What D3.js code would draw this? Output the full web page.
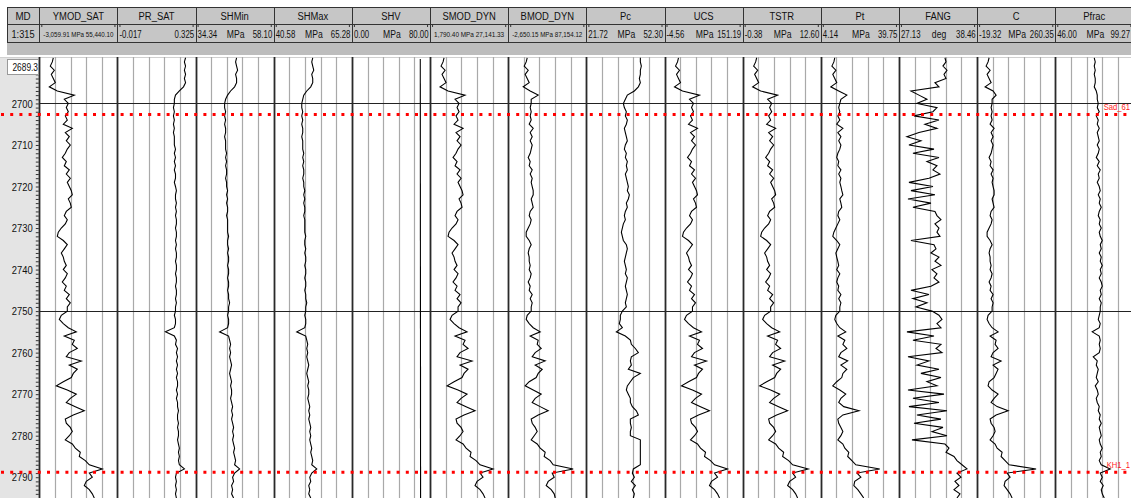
<!DOCTYPE html>
<html>
<head>
<meta charset="utf-8">
<script src="https://cdn.jsdelivr.net/npm/d3@7"></script>
<style>
  body { margin: 0; background: #fff; }
  text { font-family: 'Liberation Sans', Arial, sans-serif; fill: #111; }
</style>
</head>
<body>
<div id="container"></div>
<script>
// depth samples, 1 m
const depths = d3.range(2689, 2796);

const ymodSat = [7420,6670,5170,8170,5920,7420,8920,4430,10410,23140,15660,
  18650,17150,18650,16400,17900,14910,21640,16400,19400,17150,
  20150,17900,16400,14160,17150,15660,19400,17150,20150,17900,
  19400,20900,21640,18650,20150,20900,17150,15660,17900,16400,
  13410,11160,10410,14910,17900,15660,13410,14910,15660,17150,
  14910,17900,16400,14160,17150,15660,19400,17150,20150,17900,
  17900,13410,11910,14910,18650,24640,15660,23140,21640,25390,
  19400,17150,28380,19400,25390,22390,20900,14910,9670,17900,
  24640,20150,17150,23890,30630,22390,16400,17150,20150,21640,
  19400,16400,21640,23890,27630,26880,31380,34370,44100,34370,
  36620,32120,30630,34370,36620,38110];

const prSat = [0.281,0.276,0.281,0.276,0.281,0.276,0.281,0.272,0.254,0.237,0.232,
  0.232,0.228,0.232,0.228,0.232,0.228,0.232,0.228,0.232,0.232,
  0.232,0.237,0.232,0.237,0.232,0.237,0.232,0.237,0.237,0.232,
  0.237,0.241,0.237,0.237,0.241,0.237,0.241,0.237,0.241,0.241,
  0.237,0.241,0.241,0.237,0.241,0.237,0.241,0.241,0.237,0.241,
  0.241,0.237,0.241,0.241,0.237,0.241,0.241,0.237,0.241,0.237,
  0.237,0.232,0.237,0.237,0.232,0.193,0.232,0.241,0.237,0.246,
  0.241,0.246,0.241,0.246,0.241,0.246,0.241,0.246,0.246,0.241,
  0.246,0.241,0.246,0.246,0.250,0.246,0.246,0.250,0.246,0.250,
  0.250,0.246,0.250,0.254,0.250,0.254,0.250,0.254,0.276,0.241,
  0.237,0.241,0.237,0.241,0.237,0.241];

const shMin = [46.80,46.50,46.80,47.11,46.50,46.80,46.80,46.20,44.98,44.07,43.46,
  43.16,43.16,43.46,43.16,43.46,43.16,43.46,43.46,43.16,43.46,
  43.46,43.46,43.76,43.46,43.76,43.46,43.76,43.76,43.46,43.76,
  43.76,44.07,43.76,44.07,43.76,44.07,44.07,43.76,44.07,44.07,
  44.07,44.07,44.37,44.07,44.07,44.37,44.07,44.37,44.37,44.07,
  44.37,44.37,44.07,44.37,44.37,44.07,44.37,44.37,44.68,44.37,
  44.37,44.07,44.37,44.37,44.07,41.64,44.37,44.68,44.98,44.68,
  44.98,44.68,44.98,45.28,44.98,44.68,44.98,45.28,44.98,45.28,
  45.28,44.98,45.28,45.59,45.28,45.59,45.28,45.59,45.89,45.59,
  45.89,45.59,45.89,46.20,45.89,46.20,46.50,46.20,47.72,46.20,
  45.59,45.89,45.28,45.59,45.28,45.89];

const shMax = [52.90,52.59,52.90,53.22,52.59,52.90,52.90,52.27,51.01,50.06,49.74,
  49.43,49.43,49.74,49.43,49.74,49.43,49.74,49.74,49.43,49.74,
  49.74,49.74,50.06,49.74,50.06,49.74,50.06,50.06,49.74,50.06,
  50.06,50.38,50.06,50.38,50.06,50.38,50.38,50.06,50.38,50.38,
  50.38,50.38,50.69,50.38,50.38,50.69,50.38,50.69,50.69,50.38,
  50.69,50.69,50.38,50.69,50.69,50.38,50.69,50.69,51.01,50.69,
  50.69,50.38,50.69,50.69,50.38,47.85,50.69,51.01,51.32,51.01,
  51.32,51.01,51.32,51.64,51.32,51.01,51.32,51.64,51.32,51.64,
  51.64,51.32,51.64,51.96,51.64,51.96,51.64,51.96,52.27,51.96,
  52.27,51.96,52.27,52.59,52.27,52.59,52.90,52.59,54.17,52.59,
  51.96,52.27,51.64,51.96,51.64,52.27];

// SHV is almost flat, only two samples
const shvDepths = [2689.3, 2795];
const shv = [70.0, 70.3];

const smodDyn = [6330,6010,5360,6660,5680,6330,6980,5030,7630,13140,9900,
  11200,10550,11200,10220,10870,9580,12500,10220,11520,10550,
  11850,10870,10220,9250,10550,9900,11520,10550,11850,10870,
  11520,12170,12500,11200,11850,12170,10550,9900,10870,10220,
  8930,7950,7630,9580,10870,9900,8930,9580,9900,10550,
  9580,10870,10220,9250,10550,9900,11520,10550,11850,10870,
  10870,8930,8280,9580,11200,13790,9900,13140,12500,14120,
  11520,10550,15420,11520,14120,12820,12170,9580,7310,10870,
  13790,11850,10550,13470,16390,12820,10220,10550,11850,12500,
  11520,10220,12500,13470,15090,14770,16710,18010,22230,18010,
  18980,17040,16390,18010,18980,19630];

const bmodDyn = [19180,18030,15730,20330,16880,19180,21480,14590,22630,31820,23780,
  23780,22630,23780,22630,23780,21480,26080,22630,24930,22630,
  24930,23780,22630,20330,22630,21480,24930,22630,24930,23780,
  24930,26080,26080,23780,24930,26080,22630,21480,23780,22630,
  20330,18030,18030,21480,23780,21480,20330,21480,21480,22630,
  21480,23780,22630,20330,22630,21480,24930,22630,24930,23780,
  23780,19180,18030,21480,26080,34120,22630,31820,30670,35270,
  28370,24930,39860,28370,36420,31820,29520,21480,16880,26080,
  35270,28370,24930,34120,43310,31820,23780,24930,28370,30670,
  27220,23780,30670,34120,39860,38710,45610,49060,72040,47910,
  50200,43310,41010,46760,50200,51350];

const pc = [42.85,42.85,43.24,42.85,42.85,42.46,42.85,42.07,40.50,37.76,36.98,
  36.20,36.59,37.37,36.98,37.76,37.37,36.59,36.98,37.37,37.76,
  36.98,36.59,37.37,36.98,37.76,37.37,37.76,36.98,37.37,37.76,
  38.15,37.76,38.55,38.15,37.37,37.76,36.98,36.59,36.98,36.20,
  35.81,35.42,35.81,36.20,37.37,37.76,37.37,36.98,36.59,36.98,
  37.37,36.98,37.76,37.37,36.98,37.37,37.76,37.37,36.98,37.37,
  35.81,35.02,35.02,34.63,35.81,33.46,36.98,38.94,39.33,40.89,
  42.07,39.33,38.94,39.33,38.15,42.85,40.11,38.94,37.76,37.37,
  38.15,38.94,38.94,39.72,41.29,42.07,38.94,38.94,39.33,38.94,
  38.94,42.85,42.85,42.85,42.85,42.85,42.85,42.85,40.11,39.72,
  40.50,39.33,40.89,39.72,40.50,40.11];

const ucs = [23.3,21.4,17.4,25.3,19.4,23.3,27.3,15.4,31.3,65.2,45.3,
  53.2,49.3,53.2,47.3,51.2,43.3,61.2,47.3,55.2,49.3,
  57.2,51.2,47.3,41.3,49.3,45.3,55.2,49.3,57.2,51.2,
  55.2,59.2,61.2,53.2,57.2,59.2,49.3,45.3,51.2,47.3,
  39.3,33.3,31.3,43.3,51.2,45.3,39.3,43.3,45.3,49.3,
  43.3,51.2,47.3,41.3,49.3,45.3,55.2,49.3,57.2,51.2,
  51.2,39.3,35.3,43.3,53.2,69.2,45.3,65.2,61.2,71.2,
  55.2,49.3,79.1,55.2,71.2,63.2,59.2,43.3,29.3,51.2,
  69.2,57.2,49.3,67.2,85.1,63.2,47.3,49.3,57.2,61.2,
  55.2,47.3,61.2,67.2,77.2,75.2,87.1,95.1,121.0,95.1,
  101.1,89.1,85.1,95.1,101.1,105.1];

const tstr = [1.95,1.78,1.45,2.11,1.61,1.95,2.28,1.28,2.61,5.43,3.77,
  4.44,4.10,4.44,3.94,4.27,3.61,5.10,3.94,4.60,4.10,
  4.77,4.27,3.94,3.44,4.10,3.77,4.60,4.10,4.77,4.27,
  4.60,4.94,5.10,4.44,4.77,4.94,4.10,3.77,4.27,3.94,
  3.27,2.78,2.61,3.61,4.27,3.77,3.27,3.61,3.77,4.10,
  3.61,4.27,3.94,3.44,4.10,3.77,4.60,4.10,4.77,4.27,
  4.27,3.27,2.94,3.61,4.44,5.77,3.77,5.43,5.10,5.93,
  4.60,4.10,6.60,4.60,5.93,5.27,4.94,3.61,2.44,4.27,
  5.77,4.77,4.10,5.60,7.09,5.27,3.94,4.10,4.77,5.10,
  4.60,3.94,5.10,5.60,6.43,6.26,7.26,7.92,10.50,7.92,
  8.42,7.43,7.09,7.92,8.42,8.75];

const pt = [10.5,10.1,9.2,11.0,9.6,10.5,11.4,8.7,12.3,16.0,13.3,
  12.8,12.3,12.8,11.9,12.8,11.4,14.2,11.9,13.3,12.3,
  13.3,12.8,11.9,11.4,12.3,11.9,13.3,12.3,13.3,12.8,
  13.3,13.7,14.2,12.8,13.3,13.7,12.3,11.9,12.8,11.9,
  11.0,10.1,9.6,11.4,12.8,11.9,11.0,11.4,11.9,12.3,
  11.4,12.8,11.9,11.4,12.3,11.9,13.3,12.3,13.3,12.8,
  12.8,11.0,10.5,11.4,12.8,15.5,11.9,15.1,14.2,16.0,
  13.3,12.3,16.4,13.3,16.0,14.2,13.7,11.4,9.6,12.8,
  15.5,13.3,12.3,14.6,21.5,14.2,11.9,12.3,13.3,14.2,
  13.3,11.9,14.2,15.1,16.9,16.4,18.3,20.1,31.0,20.6,
  22.4,19.6,19.2,21.0,22.4,23.7];

const fang = [33.80,33.95,33.51,34.09,33.66,33.95,32.35,32.93,28.87,30.03,31.19,
  29.74,32.64,32.06,29.31,32.93,30.90,32.64,30.03,28.29,30.32,
  28.58,32.21,29.16,32.93,31.19,32.64,32.06,33.08,31.48,28.58,
  32.06,28.87,32.35,28.44,31.77,29.16,32.35,32.64,33.22,32.35,
  32.93,32.64,33.08,28.87,32.21,32.50,31.77,32.93,32.35,33.22,
  31.92,32.64,32.21,32.93,31.77,28.87,31.48,29.16,31.19,29.60,
  31.92,32.93,33.37,32.64,33.22,28.29,32.21,29.16,33.22,32.50,
  33.37,28.44,31.48,29.74,32.93,30.32,33.22,31.19,32.64,28.44,
  33.66,29.16,32.93,28.58,34.09,29.74,33.22,29.31,33.51,31.92,
  34.09,29.02,33.80,34.38,33.95,35.11,35.54,36.27,36.99,35.54,
  36.12,35.25,35.83,35.11,35.98,35.54];

const cohesion = [23.6,20.0,12.9,27.2,16.5,23.6,30.8,9.3,37.9,48.7,34.4,
  34.4,30.8,34.4,30.8,34.4,27.2,41.5,30.8,37.9,30.8,
  37.9,34.4,30.8,23.6,30.8,27.2,37.9,30.8,37.9,34.4,
  37.9,41.5,41.5,34.4,37.9,41.5,30.8,27.2,34.4,30.8,
  23.6,16.5,16.5,27.2,34.4,27.2,23.6,27.2,27.2,30.8,
  27.2,34.4,30.8,23.6,30.8,27.2,37.9,30.8,37.9,34.4,
  34.4,20.0,16.5,23.6,34.4,55.8,27.2,48.7,45.1,55.8,
  37.9,30.8,66.6,37.9,55.8,48.7,41.5,23.6,20.0,34.4,
  55.8,41.5,30.8,52.3,91.6,48.7,27.2,30.8,41.5,45.1,
  37.9,27.2,45.1,52.3,70.2,66.6,80.9,95.2,191.8,88.1,
  98.8,80.9,77.3,88.1,98.8,105.9];

const pfrac = [72.58,73.26,72.58,73.26,72.58,73.26,73.26,72.58,73.95,74.63,74.63,
  75.31,74.63,75.99,73.95,75.31,74.63,75.99,74.63,75.31,75.99,
  74.63,75.99,75.31,73.95,75.99,74.63,76.67,75.31,75.99,74.63,
  75.99,76.67,75.31,76.67,75.99,77.35,75.99,75.31,76.67,75.99,
  77.35,75.99,76.67,78.04,76.67,77.35,75.99,77.35,76.67,78.04,
  76.67,77.35,75.99,77.35,78.04,76.67,77.35,75.99,77.35,76.67,
  76.67,75.99,75.31,76.67,75.99,71.22,75.99,76.67,75.99,76.67,
  75.99,71.90,74.63,73.95,75.31,74.63,73.95,75.31,73.26,74.63,
  75.31,73.95,74.63,75.99,75.31,76.67,75.99,77.35,75.99,76.67,
  77.35,75.99,76.67,78.04,76.67,77.35,75.99,77.35,83.49,76.67,
  78.04,76.67,78.72,77.35,78.04,79.40];

// header: curve name, scale min/max, unit
const trackNames = ['YMOD_SAT','PR_SAT','SHMin','SHMax','SHV','SMOD_DYN','BMOD_DYN','Pc','UCS','TSTR','Pt','FANG','C','Pfrac'];
const scaleMin = [-3059.91,-0.017,34.34,40.58,0,1790.40,-2650.15,21.72,-4.56,-0.38,4.14,27.13,-19.32,46.00];
const scaleMax = [55440.10,0.325,58.10,65.28,80,27141.33,87154.12,52.30,151.19,12.60,39.75,38.46,260.35,99.27];
const minLabels = ['-3,059.91','-0.017','34.34','40.58','0.00','1,790.40','-2,650.15','21.72','-4.56','-0.38','4.14','27.13','-19.32','46.00'];
const maxLabels = ['55,440.10','0.325','58.10','65.28','80.00','27,141.33','87,154.12','52.30','151.19','12.60','39.75','38.46','260.35','99.27'];
const units = ['MPa','','MPa','MPa','MPa','MPa','MPa','MPa','MPa','MPa','MPa','deg','MPa','MPa'];
const curves = [ymodSat, prSat, shMin, shMax, shv, smodDyn, bmodDyn, pc, ucs, tstr, pt, fang, cohesion, pfrac];

const markerNames = ['Sad_61', 'KH1_1'];
const markerDepths = [2702.65, 2788.8];
const boldDepths = [2700, 2750];

const W = 1131, H = 498;
const x0 = 39.3, tw = 78.15;
const hTop = 7, hMid = 24, hBot = 42, bandBot = 55, plotTop = 57;

const svg = d3.select('#container').append('svg')
  .attr('width', W).attr('height', H);

const y = d3.scaleLinear().domain([2689.3, 2795]).range([59, 498]);
const left = i => x0 + i * tw;
const crisp = v => Math.round(v) + 0.5;

// narrow text: horizontal scale instead of a condensed font
function label(g, x, yv, str, size, k, anchor) {
  return g.append('text')
    .attr('transform', `translate(${x},${yv}) scale(${k},1)`)
    .attr('text-anchor', anchor || 'start')
    .attr('font-size', size)
    .text(str);
}
function fitTo(sel, width) {
  sel.each(function () {
    const w = this.getComputedTextLength();
    const t = d3.select(this).attr('transform').replace(/scale\([^)]*\)/, `scale(${width / w},1)`);
    d3.select(this).attr('transform', t);
  });
}

// header
svg.append('rect').attr('x', 7).attr('y', hTop).attr('width', W - 7).attr('height', hBot - hTop)
  .attr('fill', '#c6c6c6');
svg.append('rect').attr('x', 7).attr('y', hBot).attr('width', W - 7).attr('height', bandBot - hBot)
  .attr('fill', '#bdbdbd');
[hTop, hMid, hBot].forEach(v => {
  svg.append('line').attr('x1', 7).attr('x2', W).attr('y1', crisp(v)).attr('y2', crisp(v))
    .attr('stroke', '#333');
});
const hx = [7].concat(d3.range(14).map(left));
hx.forEach(v => {
  svg.append('line').attr('x1', crisp(v)).attr('x2', crisp(v)).attr('y1', hTop).attr('y2', hBot)
    .attr('stroke', '#333');
});

const md = svg.append('g');
label(md, 23, 20, 'MD', 11.5, 0.85, 'middle');
label(md, 23, 37.5, '1:315', 11.5, 0.8, 'middle');

trackNames.forEach((name, i) => {
  const l = left(i), r = l + tw;
  const g = svg.append('g');
  label(g, l + tw / 2, 20, name, 11.5, 0.82, 'middle');
  // little scale bracket
  [l + 2.5, r - 2.5].forEach(v => {
    g.append('line').attr('x1', v).attr('x2', v).attr('y1', hMid).attr('y2', hMid + 3)
      .attr('stroke', '#333');
  });
  if (minLabels[i].length > 7) {
    label(g, l + tw / 2, 36.5, `${minLabels[i]} ${units[i]} ${maxLabels[i]}`, 7.5, 1, 'middle')
      .call(fitTo, tw - 8);
  } else {
    label(g, l + 2, 37.5, minLabels[i], 11.5, 0.68);
    label(g, Math.min(r - 1.5, W - 1), 37.5, maxLabels[i], 11.5, 0.68, 'end');
    if (units[i]) label(g, l + tw / 2 + 1, 37.5, units[i], 11.5, 0.75, 'middle');
  }
});

// plot frame
svg.append('rect').attr('x', 0).attr('y', plotTop).attr('width', x0).attr('height', H - plotTop)
  .attr('fill', '#e4e4e4');
svg.append('line').attr('x1', 0).attr('x2', W).attr('y1', plotTop + 0.5).attr('y2', plotTop + 0.5)
  .attr('stroke', '#d0d0d0');

// grid inside tracks
const grid = svg.append('g');
d3.range(14).forEach(i => {
  d3.range(1, 5).forEach(k => {
    const gx = crisp(left(i) + k * tw / 5);
    grid.append('line').attr('x1', gx).attr('x2', gx).attr('y1', plotTop).attr('y2', H)
      .attr('stroke', '#a9a9a9').attr('stroke-width', 1.2);
  });
});
boldDepths.forEach(d => {
  grid.append('line').attr('x1', x0).attr('x2', W).attr('y1', crisp(y(d))).attr('y2', crisp(y(d)))
    .attr('stroke', '#222');
});
d3.range(15).forEach(i => {
  const bx = crisp(left(i));
  grid.append('line').attr('x1', bx).attr('x2', bx).attr('y1', plotTop).attr('y2', H)
    .attr('stroke', '#2a2a2a').attr('stroke-width', 1.8);
});

// curves
curves.forEach((vals, i) => {
  const l = left(i);
  const xs = d3.scaleLinear().domain([scaleMin[i], scaleMax[i]]).range([l, l + tw]);
  const ds = vals === shv ? shvDepths : depths;
  const line = d3.line().x(v => xs(v)).y((v, j) => y(ds[j]));
  svg.append('clipPath').attr('id', `clip${i}`)
    .append('rect').attr('x', l).attr('y', plotTop).attr('width', tw).attr('height', H - plotTop);
  svg.append('path').datum(vals)
    .attr('clip-path', `url(#clip${i})`)
    .attr('d', line)
    .attr('fill', 'none').attr('stroke', '#000').attr('stroke-width', 1.1);
});

// depth axis
const minor = d3.axisLeft(y).tickValues(d3.range(2690, 2796)).tickSize(3).tickFormat('');
const axMinor = svg.append('g').attr('transform', `translate(${x0 - 0.5},0)`).call(minor);
axMinor.select('.domain').remove();
axMinor.selectAll('line').attr('stroke', '#333');
const major = d3.axisLeft(y).tickValues(d3.range(2700, 2791, 10)).tickSize(0)
  .tickFormat(d3.format('d'));
const axMajor = svg.append('g').attr('transform', `translate(${x0 - 0.5},0)`).call(major);
axMajor.select('.domain').remove();
axMajor.selectAll('text')
  .attr('x', null).attr('transform', 'translate(-6,0) scale(0.82,1)')
  .attr('font-size', 11.5).attr('fill', '#222')
  .style('font-family', "'Liberation Sans', Arial, sans-serif");

// top depth box
svg.append('rect').attr('x', 7.5).attr('y', 59.5).attr('width', 31).attr('height', 15)
  .attr('fill', '#fff').attr('stroke', '#999');
label(svg, 38, 71, '2689.3', 11, 0.76, 'end');

// tops markers
markerDepths.forEach((d, i) => {
  svg.append('line').attr('x1', 1).attr('x2', W).attr('y1', y(d)).attr('y2', y(d))
    .attr('stroke', '#ff0000').attr('stroke-width', 3).attr('stroke-dasharray', '3 6.2');
  label(svg, W - 1, y(d) - 4, markerNames[i], 9, 0.85, 'end').style('fill', '#ff2020');
});
</script>
</body>
</html>
